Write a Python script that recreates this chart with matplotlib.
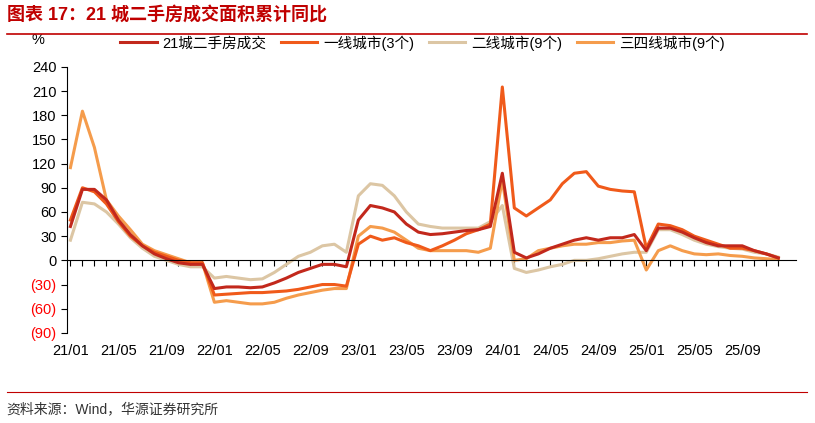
import matplotlib
matplotlib.use("Agg")
import matplotlib.pyplot as plt
import matplotlib.transforms as mtransforms
import numpy as np

plt.rcParams['font.family'] = ['Liberation Sans', 'Noto Sans CJK SC', 'DejaVu Sans']

months = [f"{y:02d}/{m:02d}" for y in range(21, 26) for m in range(1, 13)]
s21 = [42,88,88,75,50,32,18,8,2,-3,-5,-5,
       -35,-33,-33,-34,-33,-28,-22,-15,-10,-5,-5,-8,
       50,68,65,60,45,35,32,33,35,37,38,42,
       108,10,3,8,15,20,25,28,25,28,28,32,
       12,40,40,35,28,22,18,18,18,12,8,3]
tier1 = [50,90,85,70,48,30,18,10,5,0,-3,-3,
         -43,-42,-41,-40,-40,-39,-38,-36,-33,-30,-30,-32,
         20,30,25,28,22,18,12,18,25,33,38,45,
         215,65,55,65,75,95,108,110,92,88,86,85,
         15,45,43,38,30,25,20,15,15,12,8,3]
tier2 = [25,72,70,60,45,28,15,5,0,-5,-8,-8,
         -22,-20,-22,-24,-23,-15,-5,5,10,18,20,10,
         80,95,93,80,60,45,42,40,40,40,40,48,
         68,-10,-15,-12,-8,-5,0,0,2,5,8,10,
         10,38,38,32,25,20,17,15,14,10,8,4]
tier34 = [115,185,140,75,55,38,20,12,7,2,-3,-3,
          -52,-50,-52,-54,-54,-52,-47,-43,-40,-37,-35,-35,
          30,42,40,35,25,15,12,12,12,12,10,15,
          100,0,2,12,15,18,20,20,22,22,24,25,
          -12,12,18,12,8,7,8,6,5,3,2,1]
labels = ['21城二手房成交', '一线城市(3个)', '二线城市(9个)', '三四线城市(9个)']
colors = ['#c2281c', '#f05a1a', '#dcc6a4', '#f59c4c']
yticks = [-90,-60,-30,0,30,60,90,120,150,180,210,240]

fig = plt.figure(figsize=(8.15, 4.23), dpi=100)
fig.text(0.008, 0.965, '图表 17：21 城二手房成交面积累计同比', color='#c00000',
         fontsize=13, fontweight='bold', va='center')
fig.add_artist(plt.Line2D([0.008, 0.99], [0.92, 0.92], color='#c00000', lw=1.2))
fig.add_artist(plt.Line2D([0.008, 0.99], [0.073, 0.073], color='#c00000', lw=0.8))
fig.text(0.008, 0.032, '资料来源：Wind，华源证券研究所', fontsize=10, va='center', color='#333333')

ax = fig.add_axes([0.082, 0.213, 0.895, 0.629])
x = np.arange(len(months))
ax.plot(x, tier2, color=colors[2], lw=2.2, label=labels[2])
ax.plot(x, tier34, color=colors[3], lw=2.2, label=labels[3])
ax.plot(x, tier1, color=colors[1], lw=2.2, label=labels[1])
ax.plot(x, s21, color=colors[0], lw=2.2, label=labels[0])
h, l = ax.get_legend_handles_labels()
order = [3, 2, 0, 1]
ax.legend([h[i] for i in order], [l[i] for i in order], loc='center left',
          bbox_to_anchor=(0.065, 1.09), ncol=4, frameon=False, fontsize=10.5,
          handlelength=2.5, columnspacing=1.0, handletextpad=0.4, borderaxespad=0)
ax.set_ylim(-90, 240)
ax.set_xlim(-0.3, 60.5)
ax.set_yticks(yticks)
ax.set_yticklabels([f"({-v})" if v < 0 else str(v) for v in yticks], fontsize=10.5)
for t, v in zip(ax.get_yticklabels(), yticks):
    if v < 0:
        t.set_color('red')
ax.set_xticks(x)
ax.set_xticklabels([])
trans = mtransforms.blended_transform_factory(ax.transData, ax.transAxes)
for i in x[::4]:
    ax.text(i, -0.04, months[i], transform=trans, ha='center', va='top', fontsize=10.5)
ax.spines['top'].set_visible(False)
ax.spines['right'].set_visible(False)
ax.spines['bottom'].set_position(('data', 0))
ax.tick_params(axis='x', direction='out', length=4)
ax.tick_params(axis='y', direction='out', length=4)
ax.text(-0.04, 1.1, '%', transform=ax.transAxes, fontsize=10.5, ha='center', va='center')
fig.savefig('out.png')
